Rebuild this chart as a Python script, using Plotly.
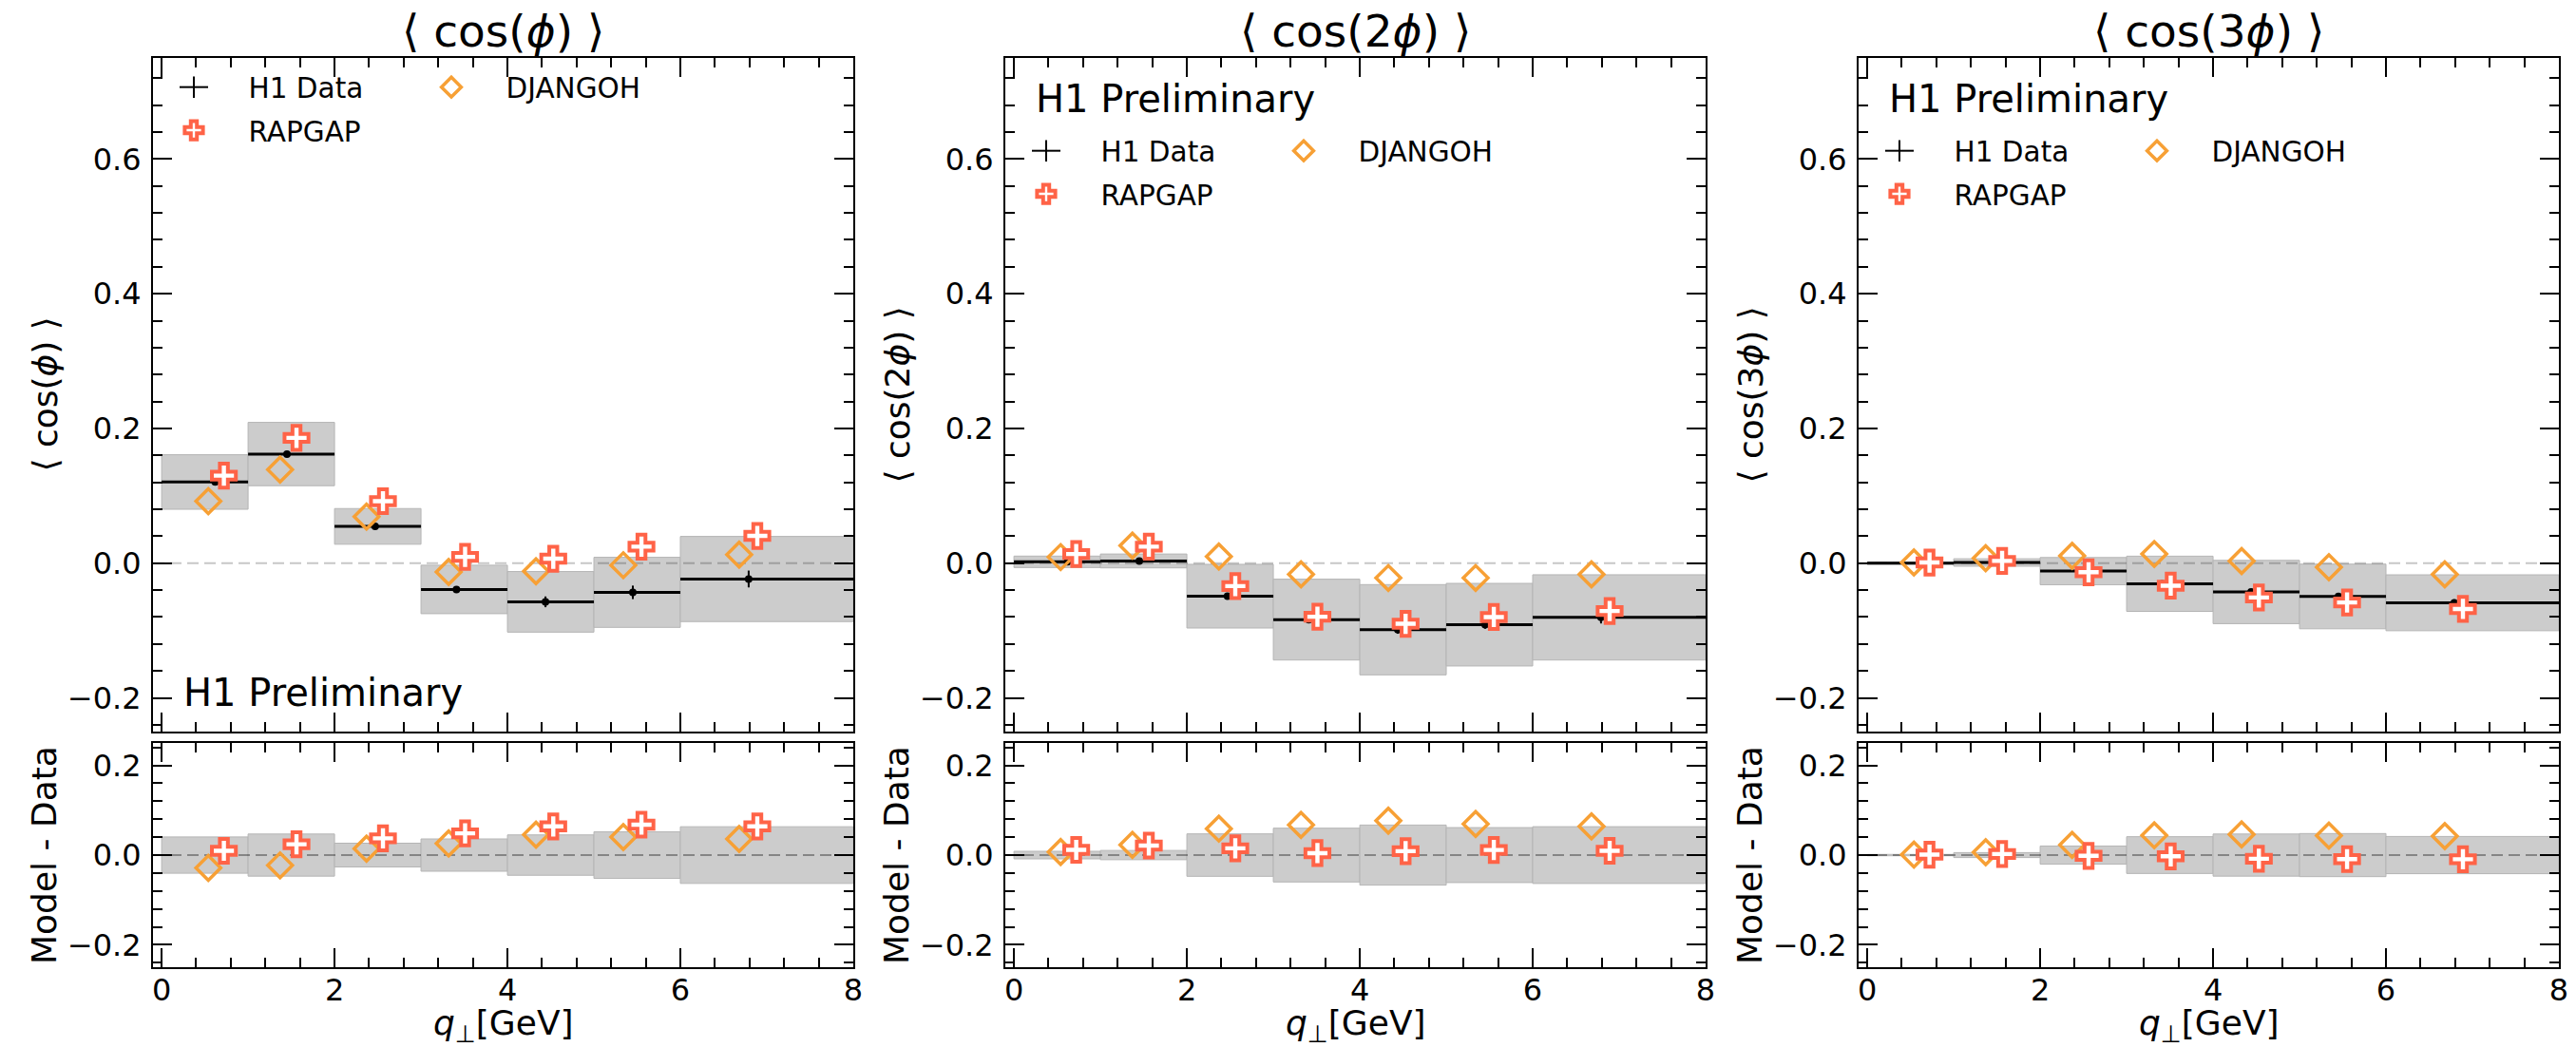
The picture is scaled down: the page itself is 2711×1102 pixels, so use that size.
import plotly.graph_objects as go

W, H = 2711, 1102

# ---------------- data ----------------
BIN_EDGES = [0, 1, 2, 3, 4, 5, 6, 8]
DATA_X = [0.62, 1.45, 2.47, 3.41, 4.44, 5.45, 6.79]
RAPGAP_X = [0.72, 1.56, 2.56, 3.51, 4.53, 5.55, 6.89]
DJANGOH_X = [0.54, 1.37, 2.37, 3.32, 4.33, 5.34, 6.68]

# <cos(phi)>
C1_DATA = [0.1205, 0.162, 0.0546, -0.039, -0.0574, -0.0433, -0.0235]
C1_STAT = [0.003, 0.003, 0.003, 0.004, 0.008, 0.010, 0.0125]
C1_TOT = [0.0405, 0.047, 0.0265, 0.036, 0.045, 0.052, 0.0632]
C1_RAPGAP = [0.130, 0.186, 0.092, 0.0094, 0.0066, 0.0245, 0.0405]
C1_DJANGOH = [0.092, 0.139, 0.069, -0.013, -0.012, -0.003, 0.0127]

# <cos(2phi)>
C2_DATA = [0.002, 0.0033, -0.049, -0.0838, -0.0988, -0.0913, -0.0805]
C2_STAT = [0.002, 0.002, 0.004, 0.005, 0.006, 0.006, 0.009]
C2_TOT = [0.0085, 0.0103, 0.0473, 0.0600, 0.0670, 0.0613, 0.0633]
C2_RAPGAP = [0.0136, 0.0245, -0.034, -0.0795, -0.090, -0.080, -0.071]
C2_DJANGOH = [0.009, 0.026, 0.010, -0.0165, -0.022, -0.022, -0.0165]

# <cos(3phi)>
C3_DATA = [0.0, 0.001, -0.0118, -0.0306, -0.0428, -0.0494, -0.0588]
C3_STAT = [0.002, 0.002, 0.003, 0.004, 0.004, 0.004, 0.005]
C3_TOT = [0.0015, 0.0055, 0.0202, 0.041, 0.047, 0.048, 0.0415]
C3_RAPGAP = [0.001, 0.0033, -0.0135, -0.0334, -0.051, -0.0584, -0.068]
C3_DJANGOH = [0.001, 0.0075, 0.0108, 0.0136, 0.0033, -0.006, -0.0165]

TITLES = ["⟨ cos(<i>ϕ</i>) ⟩", "⟨ cos(2<i>ϕ</i>) ⟩", "⟨ cos(3<i>ϕ</i>) ⟩"]
X_TICKS = [0, 2, 4, 6, 8]
X_RANGE = [-0.1, 8.0]
Y_RANGE_TOP = [-0.25, 0.75]
Y_RANGE_BOT = [-0.25, 0.25]

PANELS = [
    dict(data=C1_DATA, stat=C1_STAT, tot=C1_TOT, rap=C1_RAPGAP, dja=C1_DJANGOH),
    dict(data=C2_DATA, stat=C2_STAT, tot=C2_TOT, rap=C2_RAPGAP, dja=C2_DJANGOH),
    dict(data=C3_DATA, stat=C3_STAT, tot=C3_TOT, rap=C3_RAPGAP, dja=C3_DJANGOH),
]

# ---------------- style / layout ----------------
FONT = "DejaVu Sans"
RAP_COLOR = "#FF6347"
DJA_COLOR = "#F7A035"
BOX_COLOR = "#cccccc"
PAD = "\u00a0" * 4  # extra gap between legend symbol and text

PANEL_LEFT = [161, 1058, 1956]
PANEL_W = 737
TOP_Y = (61, 770)
BOT_Y = (782, 1018)


def px(x):
    return x / W


def py(y):
    return 1 - y / H


bin_lo = BIN_EDGES[:-1]
bin_hi = BIN_EDGES[1:]
bin_c = [(a + b) / 2 for a, b in zip(bin_lo, bin_hi)]
bin_w = [b - a for a, b in zip(bin_lo, bin_hi)]

fig = go.Figure()
layout = dict(
    template="none",
    width=W, height=H, autosize=False,
    margin=dict(l=0, r=0, t=0, b=0, pad=0),
    paper_bgcolor="white", plot_bgcolor="white",
    barmode="overlay", showlegend=True,
    font=dict(family=FONT, color="black"),
)
annotations = []

axis_common = dict(
    showline=True, linecolor="black", linewidth=2, mirror="allticks",
    ticks="inside", ticklen=20, tickwidth=2, tickcolor="black",
    showgrid=False, zeroline=False, automargin=False,
    tickfont=dict(family=FONT, size=32, color="black"),
)

for i, p in enumerate(PANELS):
    xt, yt = f"x{2*i+1}", f"y{2*i+1}"
    xb, yb = f"x{2*i+2}", f"y{2*i+2}"
    xt_key = "xaxis" if i == 0 else f"xaxis{2*i+1}"
    yt_key = "yaxis" if i == 0 else f"yaxis{2*i+1}"
    xb_key, yb_key = f"xaxis{2*i+2}", f"yaxis{2*i+2}"
    left = PANEL_LEFT[i]
    dom_x = [px(left), px(left + PANEL_W)]

    xax = dict(axis_common, domain=dom_x, range=X_RANGE, tickvals=X_TICKS,
               minor=dict(ticks="inside", ticklen=10, tickwidth=1.5, tickcolor="black",
                          tick0=0, dtick=0.4, showgrid=False))
    layout[xt_key] = dict(xax, anchor=yt, showticklabels=False, matches=xb)
    layout[xb_key] = dict(xax, anchor=yb, ticklabelstandoff=-5)
    yax_minor = dict(ticks="inside", ticklen=10, tickwidth=1.5, tickcolor="black",
                     tick0=0, dtick=0.04, showgrid=False)
    layout[yt_key] = dict(axis_common, domain=[py(TOP_Y[1]), py(TOP_Y[0])], anchor=xt,
                          range=Y_RANGE_TOP, tick0=0, dtick=0.2, tickformat=".1f",
                          minor=yax_minor, ticklabelstandoff=4)
    layout[yb_key] = dict(axis_common, domain=[py(BOT_Y[1]), py(BOT_Y[0])], anchor=xb,
                          range=Y_RANGE_BOT, tick0=0, dtick=0.2, tickformat=".1f",
                          minor=yax_minor, ticklabelstandoff=4)

    data, stat, tot, rap, dja = p["data"], p["stat"], p["tot"], p["rap"], p["dja"]
    diff_rap = [m - d for m, d in zip(rap, data)]
    diff_dja = [m - d for m, d in zip(dja, data)]

    # uncertainty boxes
    fig.add_trace(go.Bar(x=bin_c, width=bin_w, base=[d - t for d, t in zip(data, tot)],
                         y=[2 * t for t in tot], marker=dict(color=BOX_COLOR, line=dict(color="#b5b5b5", width=1)),
                         xaxis=xt, yaxis=yt, showlegend=False, hoverinfo="skip"))
    fig.add_trace(go.Bar(x=bin_c, width=bin_w, base=[-t for t in tot],
                         y=[2 * t for t in tot], marker=dict(color=BOX_COLOR, line=dict(color="#b5b5b5", width=1)),
                         xaxis=xb, yaxis=yb, showlegend=False, hoverinfo="skip"))
    # zero reference lines
    fig.add_trace(go.Scatter(x=X_RANGE, y=[0, 0], mode="lines",
                             line=dict(color="rgba(0,0,0,0.22)", width=2, dash="12px,6px"),
                             xaxis=xt, yaxis=yt, showlegend=False, hoverinfo="skip"))
    fig.add_trace(go.Scatter(x=X_RANGE, y=[0, 0], mode="lines",
                             line=dict(color="rgba(0,0,0,0.35)", width=2, dash="12px,6px"),
                             xaxis=xb, yaxis=yb, showlegend=False, hoverinfo="skip"))
    # data points
    fig.add_trace(go.Scatter(
        x=DATA_X, y=data, mode="markers",
        marker=dict(symbol="circle", size=8, color="black"),
        error_x=dict(type="data", symmetric=False,
                     array=[h - x for h, x in zip(bin_hi, DATA_X)],
                     arrayminus=[x - l for l, x in zip(bin_lo, DATA_X)],
                     thickness=3, width=0, color="black"),
        error_y=dict(type="data", array=stat, thickness=2, width=0, color="black"),
        xaxis=xt, yaxis=yt, showlegend=False, hoverinfo="skip"))

    leg_a = "legend" if i == 0 else f"legend{2*i+1}"
    leg_b = f"legend{2*i+2}"
    # legend entry for the data
    fig.add_trace(go.Scatter(x=[None], y=[None], mode="lines+markers", name=PAD + "H1 Data",
                             line=dict(color="black", width=2),
                             marker=dict(symbol="line-ns-open", size=30, line=dict(color="black", width=2)),
                             xaxis=xt, yaxis=yt, legend=leg_a, legendgroup=f"d{i}", legendrank=1))
    # models, top
    fig.add_trace(go.Scatter(x=DJANGOH_X, y=dja, mode="markers", name=PAD + "DJANGOH",
                             marker=dict(symbol="diamond-open", size=20, color=DJA_COLOR,
                                         line=dict(color=DJA_COLOR, width=3.5)),
                             xaxis=xt, yaxis=yt, legend=leg_b, legendgroup=f"j{i}", hoverinfo="skip"))
    fig.add_trace(go.Scatter(x=RAPGAP_X, y=rap, mode="markers", name=PAD + "RAPGAP",
                             marker=dict(symbol="cross", size=21, color="white",
                                         line=dict(color=RAP_COLOR, width=4)),
                             xaxis=xt, yaxis=yt, legend=leg_a, legendgroup=f"r{i}", legendrank=2,
                             hoverinfo="skip"))
    # models, bottom
    fig.add_trace(go.Scatter(x=DJANGOH_X, y=diff_dja, mode="markers",
                             marker=dict(symbol="diamond-open", size=20, color=DJA_COLOR,
                                         line=dict(color=DJA_COLOR, width=3.5)),
                             xaxis=xb, yaxis=yb, showlegend=False, hoverinfo="skip"))
    fig.add_trace(go.Scatter(x=RAPGAP_X, y=diff_rap, mode="markers",
                             marker=dict(symbol="cross", size=21, color="white",
                                         line=dict(color=RAP_COLOR, width=4)),
                             xaxis=xb, yaxis=yb, showlegend=False, hoverinfo="skip"))

    row1 = 91 if i == 0 else 158
    leg_common = dict(xanchor="left", yanchor="top", bgcolor="rgba(0,0,0,0)",
                      font=dict(family=FONT, size=29.5, color="black"),
                      itemwidth=30, traceorder="grouped", tracegroupgap=4,
                      borderwidth=0)
    layout[leg_a] = dict(leg_common, x=px(left + 42 - 19), y=py(row1 - 25))
    layout[leg_b] = dict(leg_common, x=px(left + 313 - 19), y=py(row1 - 25))

    # titles and labels
    annotations.append(dict(text=TITLES[i], x=px(left + PANEL_W / 2), y=py(33), xref="paper", yref="paper",
                            xanchor="center", yanchor="middle", showarrow=False,
                            font=dict(family=FONT, size=47, color="black")))
    annotations.append(dict(text=TITLES[i], x=px(left - 114), y=py(sum(TOP_Y) / 2), xref="paper", yref="paper",
                            xanchor="center", yanchor="middle", showarrow=False, textangle=-90,
                            font=dict(family=FONT, size=36, color="black")))
    annotations.append(dict(text="Model - Data", x=px(left - 115), y=py(sum(BOT_Y) / 2), xref="paper", yref="paper",
                            xanchor="center", yanchor="middle", showarrow=False, textangle=-90,
                            font=dict(family=FONT, size=36, color="black")))
    annotations.append(dict(text="<i>q</i><sub>⊥</sub>[GeV]", x=px(left + PANEL_W / 2), y=py(1079),
                            xref="paper", yref="paper", xanchor="center", yanchor="middle", showarrow=False,
                            font=dict(family=FONT, size=36, color="black")))
    prelim_y = 729 if i == 0 else 104
    annotations.append(dict(text="H1 Preliminary", x=px(left + 30), y=py(prelim_y), xref="paper", yref="paper",
                            xanchor="left", yanchor="middle", showarrow=False,
                            font=dict(family=FONT, size=40, color="black")))

layout["annotations"] = annotations
fig.update_layout(**layout)
fig.write_html("out.html", config={"displayModeBar": False},
               post_script="document.body.style.margin='0px';document.body.style.overflow='hidden';")
